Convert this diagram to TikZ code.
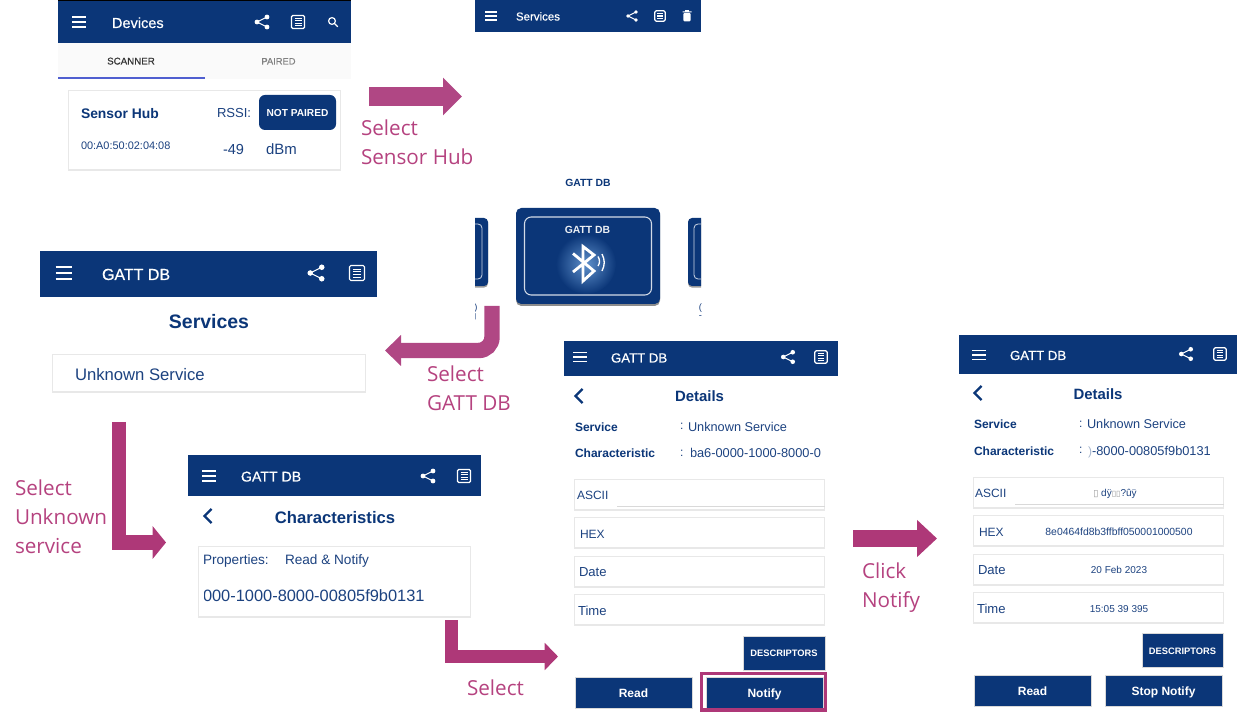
\documentclass[tikz,border=0pt]{standalone}
\usepackage{fontspec}
\usetikzlibrary{arrows.meta,shadows}
\setmainfont{Liberation Sans}
\newfontfamily\medf[FakeBold=0.5]{Liberation Sans}
\newfontfamily\lblf{Open Sans}
\newfontfamily\symf{DejaVu Sans}
\definecolor{navy}{HTML}{0B3678}
\definecolor{navytxt}{HTML}{1C4280}
\definecolor{mag}{HTML}{AE3878}
\definecolor{magb}{HTML}{B04784}
\definecolor{magtxt}{HTML}{B5427F}
\definecolor{glow}{HTML}{5F90CB}
\newcommand\fsz[1]{\fontsize{#1}{#1}\selectfont}
\tikzset{
 x=0.75pt,y=-0.75pt,
 t/.style={inner sep=0pt,outer sep=0pt,anchor=base west,text=navy},
 tc/.style={inner sep=0pt,outer sep=0pt,anchor=base,text=navy},
 lbl/.style={inner sep=0pt,outer sep=0pt,anchor=base west,text=magtxt,font=\lblf\fsz{15.5}},
 hdr/.style={fill=navy,draw=none},
 cardbox/.style={fill=white,draw=black!9,line width=0.9pt,drop shadow={shadow xshift=0pt,shadow yshift=-0.9pt,opacity=0.22,fill=black}},
 btn/.style={fill=navy,draw=black!15,line width=0.3pt},
 blockarrow/.style n args={3}{draw=mag,line width=#1,line join=miter,-{Triangle[length=#2,width=#3]}},
 hambicon/.pic={\draw[white,line width=0.95pt] (-7,-5)--(7,-5) (-7,0)--(7,0) (-7,5)--(7,5);},
 shareicon/.pic={\draw[white,line width=0.8pt] (5,-5)--(-5,0)--(5,5);
   \fill[white] (5,-5) circle (2.4) (-5,0) circle (2.4) (5,5) circle (2.4);},
 listicon/.pic={\draw[white,line width=0.9pt,rounded corners=1pt] (-6.5,-6.5) rectangle (6.5,6.5);
   \draw[white,line width=0.7pt] (-3.5,-3.5)--(3.5,-3.5) (-3.5,-1.2)--(3.5,-1.2) (-3.5,1.2)--(3.5,1.2) (-3.5,3.5)--(3.5,3.5);},
 searchicon/.pic={\draw[white,line width=0.9pt] (-1,-1) circle (3.4) (1.5,1.5)--(4.8,4.8);},
 trashicon/.pic={\fill[white,rounded corners=0.8pt] (-4,-3.5) rectangle (4,6);
   \fill[white] (-5,-5.2) rectangle (5,-4) (-2,-6.5) rectangle (2,-5);},
 chevron/.pic={\draw[navy,line width=1.7pt,line join=miter] (3.5,-7)--(-3.5,0)--(3.5,7);},
}
\begin{document}
\begin{tikzpicture}
\useasboundingbox (0,0) rectangle (1239,723);
% ---- panel 1: Devices
\fill[hdr] (58,0) rectangle (351,43);
\draw[black,line width=0.4pt] (58,0.3)--(351,0.3);
\pic at (79,22) {hambicon};
\node[t,text=white,font=\medf\fsz{10.9}] (devT) at (112,28) {Devices};
\pic at (262,22) {shareicon};
\pic at (298,22) {listicon};
\pic at (333,22) {searchicon};
\fill[black!2] (58,43) rectangle (351,79);
\fill[blue!50!navy!70!white] (58,77.5) rectangle (205,79);
\node[tc,text=black!80,font=\medf\fsz{7.3}] (scanT) at (131,64.5) {SCANNER};
\node[tc,text=black!50,font=\medf\fsz{7}] (pairT) at (278.5,64.5) {PAIRED};
\draw[cardbox] (68.5,90.5) rectangle (340.5,170);
\node[t,font=\bfseries\fsz{10.4}] (hubT) at (81,118.5) {Sensor Hub};
\node[t,text=navytxt,font=\fsz{8.2}] (addrT) at (81,150) {00:A0:50:02:04:08};
\node[t,text=navytxt,font=\fsz{9.8}] (rssiT) at (217,118) {RSSI:};
\node[t,text=navytxt,font=\fsz{10.9}] (valT) at (223,155) {-49};
\node[t,text=navytxt,font=\fsz{11.2}] (dbmT) at (266,155) {dBm};
\fill[navy,rounded corners=4.5pt] (259,95) rectangle (336,130);
\node[tc,text=white,font=\bfseries\fsz{7.6}] (npT) at (297.5,117) {NOT PAIRED};
% ---- panel 2: Services + GATT DB
\fill[hdr] (475,0) rectangle (701,32);
\pic[scale=0.8] at (491,16) {hambicon};
\node[t,text=white,font=\medf\fsz{8.6}] (svcT) at (516,20.5) {Services};
\pic[scale=0.8] at (632,16) {shareicon};
\pic[scale=0.8] at (660,16) {listicon};
\pic[scale=0.9] at (687,16) {trashicon};
\node[tc,font=\bfseries\fsz{7.8}] (gattT) at (588,187) {GATT DB};
\begin{scope}
\clip (475,200) rectangle (701,330);
\fill[navy,rounded corners=3pt,drop shadow={shadow xshift=0pt,shadow yshift=-1.2pt,opacity=0.4,fill=black}] (440,218) rectangle (488,286);
\draw[white!80!navy,line width=0.6pt,rounded corners=3pt] (440,224) rectangle (482,279);
\fill[navy,rounded corners=3pt,drop shadow={shadow xshift=0pt,shadow yshift=-1.2pt,opacity=0.4,fill=black}] (688,218) rectangle (740,286);
\draw[white!80!navy,line width=0.6pt,rounded corners=3pt] (694,224) rectangle (740,279);
\node[tc,text=navytxt,font=\fsz{7}] (leftA) at (476,311) {)};
\node[tc,text=navytxt,font=\fsz{5}] (leftB) at (475.5,319) {|};
\node[tc,text=navytxt,font=\fsz{7}] (rightA) at (700.5,311) {(};
\node[tc,text=navytxt,font=\fsz{7}] (rightB) at (700.5,319) {-};
\end{scope}
\fill[navy,rounded corners=4pt,drop shadow={shadow xshift=0pt,shadow yshift=-1.5pt,opacity=0.45,fill=black}] (516,208) rectangle (660,304);
\begin{scope}
\clip (525,218) rectangle (651,294);
\shade[inner color=glow,outer color=navy] (586,264) circle (30);
\end{scope}
\draw[white!82!navy,line width=0.8pt,rounded corners=5pt] (524.5,217) rectangle (651.5,295);
\node[tc,text=white!92!navy,font=\bfseries\fsz{7.8}] (gattCard) at (587.5,234) {GATT DB};
\draw[white,line width=2.1pt,line join=miter] (573,253.5)--(594,271)--(583,281)--(583,246.5)--(594,255)--(573,272);
\draw[white,line width=1pt] (598,256.5) .. controls (600,260) and (600,263) .. (598,266);
\draw[white,line width=1pt] (602,254) .. controls (605,260) and (605,265) .. (602,271);
% ---- panel 3: GATT DB / Services
\fill[hdr] (40,251) rectangle (377,297);
\pic[scale=1.2] at (64,273) {hambicon};
\node[t,text=white,font=\medf\fsz{12}] (g3T) at (102,280) {GATT DB};
\pic[scale=1.15] at (316,273) {shareicon};
\pic[scale=1.15] at (357,273) {listicon};
\node[tc,font=\bfseries\fsz{14.6}] (s3T) at (209,329) {Services};
\draw[cardbox] (52.5,354.5) rectangle (365.5,392);
\node[t,text=navytxt,font=\fsz{12.5}] (us3T) at (75,380.5) {Unknown Service};
% ---- panel 4: Characteristics
\fill[hdr] (188,455) rectangle (481,496);
\pic at (209,476) {hambicon};
\node[t,text=white,font=\medf\fsz{10.6}] (g4T) at (241,481.5) {GATT DB};
\pic at (428,476) {shareicon};
\pic at (464,476) {listicon};
\pic at (208,516) {chevron};
\node[tc,font=\bfseries\fsz{12.5}] (c4T) at (335,523) {Characteristics};
\draw[cardbox] (198.5,546.5) rectangle (470.5,617);
\node[t,text=navytxt,font=\fsz{10.2}] (p4T) at (203,564) {Properties:};
\node[t,text=navytxt,font=\fsz{10.2}] (r4T) at (285,564) {Read \& Notify};
\begin{scope}
\clip (204.5,580) rectangle (470,610);
\node[t,text=navytxt,font=\fsz{12.3}] (u4T) at (203,601) {000-1000-8000-00805f9b0131};
\end{scope}
% ---- panel 5: Details
\fill[hdr] (564,341) rectangle (838,376);
\pic[scale=0.95] at (580,357) {hambicon};
\node[t,text=white,font=\medf\fsz{9.9}] (g5T) at (611,362.5) {GATT DB};
\pic[scale=0.95] at (788,357) {shareicon};
\pic[scale=0.95] at (821,357) {listicon};
\pic at (579,396) {chevron};
\node[tc,font=\bfseries\fsz{11.2}] (d5T) at (699.5,401.5) {Details};
\node[t,font=\bfseries\fsz{9}] (sv5T) at (575,431.5) {Service};
\node[t,text=navytxt,font=\fsz{9}] (col5a) at (680,430) {:};
\node[t,text=navytxt,font=\fsz{9.55}] (us5T) at (688,431.5) {Unknown Service};
\node[t,font=\bfseries\fsz{9}] (ch5T) at (575,457.5) {Characteristic};
\node[t,text=navytxt,font=\fsz{9}] (col5b) at (680,456) {:};
\begin{scope}
\clip (691,445) rectangle (822,462);
\node[t,text=navytxt,font=\fsz{9.6}] (u5T) at (690,457.5) {ba6-0000-1000-8000-0};
\end{scope}
\draw[cardbox] (574.5,479.5) rectangle (824.5,510);
\draw[black!15,line width=0.7pt] (617,506.5)--(824.5,506.5);
\draw[cardbox] (574.5,517.5) rectangle (824.5,548);
\draw[cardbox] (574.5,556.5) rectangle (824.5,587);
\draw[cardbox] (574.5,594.5) rectangle (824.5,625);
\node[t,text=navytxt,font=\fsz{9}] (a5T) at (577,499.5) {ASCII};
\node[t,text=navytxt,font=\fsz{9}] (h5T) at (580,538) {HEX};
\node[t,text=navytxt,font=\fsz{9.8}] (da5T) at (579,576.5) {Date};
\node[t,text=navytxt,font=\fsz{9.8}] (ti5T) at (578,615) {Time};
\fill[btn] (743,636) rectangle (825,670);
\node[tc,text=white,font=\bfseries\fsz{7}] (de5T) at (784,656) {DESCRIPTORS};
\fill[btn] (575,677) rectangle (692,708);
\node[tc,text=white,font=\bfseries\fsz{9}] (re5T) at (633.5,697.5) {Read};
\fill[btn] (706,677) rectangle (823,708);
\node[tc,text=white,font=\bfseries\fsz{9}] (no5T) at (764.5,697.5) {Notify};
\draw[mag,line width=2.4pt] (701.5,673.5) rectangle (825.5,710);
% ---- panel 6: Details after notify
\fill[hdr] (959,335) rectangle (1237,374);
\pic[scale=0.95] at (979,355) {hambicon};
\node[t,text=white,font=\medf\fsz{9.9}] (g6T) at (1010,360) {GATT DB};
\pic[scale=0.95] at (1186,354) {shareicon};
\pic[scale=0.95] at (1220,354) {listicon};
\pic at (978,393) {chevron};
\node[tc,font=\bfseries\fsz{11.2}] (d6T) at (1098,399.5) {Details};
\node[t,font=\bfseries\fsz{9}] (sv6T) at (974,429) {Service};
\node[t,text=navytxt,font=\fsz{9}] (col6a) at (1079,428) {:};
\node[t,text=navytxt,font=\fsz{9.55}] (us6T) at (1087,429) {Unknown Service};
\node[t,font=\bfseries\fsz{9}] (ch6T) at (974,455.5) {Characteristic};
\node[t,text=navytxt,font=\fsz{9}] (col6b) at (1079,454) {:};
\node[t,text=navytxt!40!white,font=\fsz{9}] (p6T) at (1088,455.5) {)};
\node[t,text=navytxt,font=\fsz{9.6}] (u6T) at (1092,455.5) {-8000-00805f9b0131};
\draw[cardbox] (973.5,477.5) rectangle (1223.5,508);
\draw[black!15,line width=0.7pt] (1015,504.5)--(1223.5,504.5);
\draw[cardbox] (973.5,515.5) rectangle (1223.5,546);
\draw[cardbox] (973.5,554.5) rectangle (1223.5,585);
\draw[cardbox] (973.5,592.5) rectangle (1223.5,623);
\node[t,text=navytxt,font=\fsz{9}] (a6T) at (975,497.5) {ASCII};
\node[t,text=navytxt,font=\fsz{9}] (h6T) at (979,536) {HEX};
\node[t,text=navytxt,font=\fsz{9.8}] (da6T) at (978,574.5) {Date};
\node[t,text=navytxt,font=\fsz{9.8}] (ti6T) at (977,613) {Time};
\node[tc,text=navytxt,font=\fsz{7.5}] (av6T) at (1115,496) {{\symf\fsz{7}\textcolor{black!40}{▯}} dÿ{\symf\fsz{6}\textcolor{black!40}{▯▯}}?ûÿ};
\node[tc,text=navytxt,font=\fsz{7.8}] (hv6T) at (1119,535) {8e0464fd8b3ffbff050001000500};
\node[tc,text=navytxt,font=\fsz{7.5}] (dv6T) at (1119,573) {20 Feb 2023};
\node[tc,text=navytxt,font=\fsz{7.5}] (tv6T) at (1119,612) {15:05 39 395};
\fill[btn] (1142,633) rectangle (1223,667);
\node[tc,text=white,font=\bfseries\fsz{7}] (de6T) at (1182.5,654) {DESCRIPTORS};
\fill[btn] (974,675) rectangle (1091,706);
\node[tc,text=white,font=\bfseries\fsz{9}] (re6T) at (1032.5,695.5) {Read};
\fill[btn] (1105,675) rectangle (1222,706);
\node[tc,text=white,font=\bfseries\fsz{9}] (sn6T) at (1163.5,695.5) {Stop Notify};
% ---- connectors
\coordinate (a1s) at (369,96.5); \coordinate (a1e) at (462,96.5);
\draw[blockarrow={14.25pt}{14.25pt}{27.5pt},draw=magb] (a1s)--(a1e);
\coordinate (a2s) at (492,306); \coordinate (a2m) at (492,350.5); \coordinate (a2e) at (385,350.5);
\draw[blockarrow={11.6pt}{12pt}{22.5pt},draw=magb,rounded corners=10pt] (a2s)--(a2m)--(a2e);
\coordinate (a3s) at (119,422); \coordinate (a3m) at (119,542.5); \coordinate (a3e) at (166,542.5);
\draw[blockarrow={10.8pt}{10pt}{24pt}] (a3s)--(a3m)--(a3e);
\coordinate (a4s) at (451.5,620); \coordinate (a4m) at (451.5,656.5); \coordinate (a4e) at (558,656.5);
\draw[blockarrow={10pt}{10pt}{20pt}] (a4s)--(a4m)--(a4e);
\coordinate (a5s) at (853,538.5); \coordinate (a5e) at (937,538.5);
\draw[blockarrow={12.5pt}{15pt}{27pt}] (a5s)--(a5e);
% ---- step labels
\node[lbl] (l1a) at (361,135.5) {Select};
\node[lbl] (l1b) at (361,164.5) {Sensor Hub};
\node[lbl] (l2a) at (427,381.5) {Select};
\node[lbl] (l2b) at (427,410.5) {GATT DB};
\node[lbl] (l3a) at (15,495.5) {Select};
\node[lbl] (l3b) at (15,524.5) {Unknown};
\node[lbl] (l3c) at (15,553.5) {service};
\node[lbl] (l4a) at (467,695.5) {Select};
\node[lbl] (l5a) at (862,578.5) {Click};
\node[lbl] (l5b) at (862,607.5) {Notify};
\end{tikzpicture}
\end{document}
